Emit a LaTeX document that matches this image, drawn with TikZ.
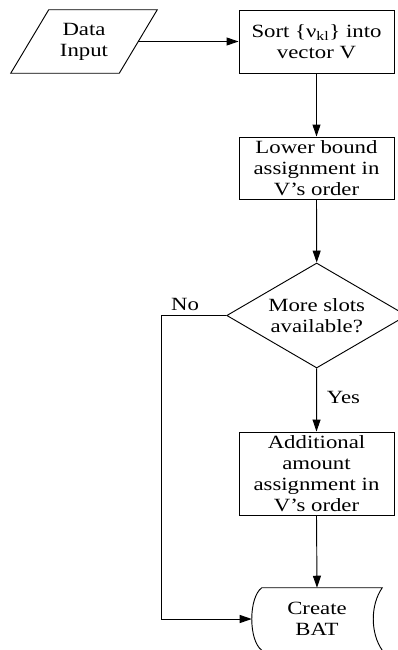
\documentclass[tikz,border=0pt]{standalone}
\usepackage{fontspec}
\setmainfont[FakeStretch=1.22]{Liberation Serif}
\usetikzlibrary{arrows.meta,shapes.geometric,calc}

\begin{document}
\begin{tikzpicture}[x=0.75pt,y=-0.75pt,
  every node/.style={font=\fontsize{14pt}{15.6pt}\selectfont, align=center, inner sep=0pt},
  procbox/.style={draw, line width=0.7pt, rectangle, minimum width=116.25pt},
  decision/.style={draw, line width=0.7pt, diamond, aspect=1.714, minimum width=135pt, minimum height=78.75pt},
  plain/.style={rectangle},
  outline/.style={line width=0.7pt},
  flow/.style={line width=0.7pt, -{Triangle[length=9pt,width=6pt]}},
  lbl/.style={rectangle, inner sep=0pt}]
  \useasboundingbox (0,0) rectangle (398,650);
  \clip (0,0) rectangle (398,650);

  % input / output parallelogram
  \node[plain, minimum width=81pt, minimum height=47.25pt] (in) at (84,41.5) {Data\\Input};
  \draw[outline] ($(in.north west)+(19,0)$) -- ($(in.north east)+(19,0)$)
     -- ($(in.south east)+(-19,0)$) -- ($(in.south west)+(-19,0)$) -- cycle;

  % process steps
  \node[procbox, minimum height=47.25pt] (sort) at (316.5,41.5) {Sort \{ν\textsubscript{kl}\} into\\vector V};
  \node[procbox, minimum height=46.5pt] (lower) at (316.5,168) {Lower bound\\assignment in\\V’s order};
  \node[decision] (dec) at (316.7,315.5) {More slots\\available?};
  \node[procbox, minimum height=62.25pt] (add) at (316.5,473.5) {Additional\\amount\\assignment in\\V’s order};

  % stored-data terminal, open at the bottom
  \node[plain, minimum width=97.5pt, minimum height=46.5pt] (bat) at (317,619) {Create\\BAT};
  \draw[outline] ($(bat.south west)+(10,0)$)
     .. controls ($(bat.south west)+(-3.3,-10)$) and ($(bat.north west)+(-3.3,10)$) .. ($(bat.north west)+(10,0)$)
     -- (bat.north east)
     .. controls ($(bat.north east)+(-12,17)$) and ($(bat.south east)+(-12,-17)$) .. (bat.south east);

  % connectors
  \draw[flow] (in.east) -- (sort.west);
  \draw[flow] (sort.south) -- (lower.north);
  \draw[flow] (lower.south) -- (dec.north);
  \draw[flow] (dec.south) -- (add.north);
  \draw[flow] (add.south) -- (bat.north);
  \draw[flow] (dec.west) -- ++(-64.7,0) |- (bat.west);

  % branch labels
  \node[lbl] (no) at (185,304) {No};
  \node[lbl] (yes) at (343.5,397) {Yes};
\end{tikzpicture}
\end{document}
